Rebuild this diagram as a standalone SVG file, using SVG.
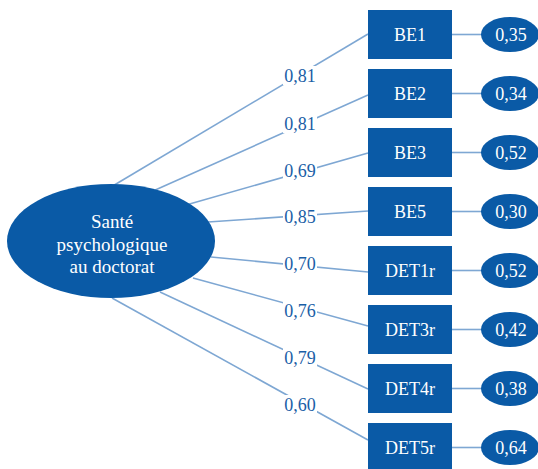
<svg xmlns="http://www.w3.org/2000/svg" width="538" height="469" viewBox="0 0 538 469">
<style>
.ln{stroke:#7ea7d3;stroke-width:1.6;fill:none}
.bx{fill:#0a5aa6}
.tw{font-family:"Liberation Serif","Times New Roman",serif;font-size:18px;fill:#ffffff;text-anchor:middle}
.lb{font-family:"Liberation Serif","Times New Roman",serif;font-size:18px;fill:#1a5ea6;text-anchor:middle}
.bg{fill:#ffffff}
</style>
<rect width="538" height="469" fill="#ffffff"/>
<g id="connectors">
<line class="ln" x1="111" y1="187" x2="368" y2="34"/>
<line class="ln" x1="153" y1="191" x2="368" y2="95"/>
<line class="ln" x1="186" y1="205" x2="368" y2="153"/>
<line class="ln" x1="208" y1="222" x2="368" y2="211"/>
<line class="ln" x1="211" y1="257" x2="368" y2="272"/>
<line class="ln" x1="193" y1="278" x2="368" y2="326"/>
<line class="ln" x1="160" y1="292" x2="368" y2="389"/>
<line class="ln" x1="112" y1="298" x2="368" y2="440"/>
<line class="ln" x1="452" y1="34.5" x2="482" y2="34.5"/>
<line class="ln" x1="452" y1="93.5" x2="482" y2="93.5"/>
<line class="ln" x1="452" y1="152.5" x2="482" y2="152.5"/>
<line class="ln" x1="452" y1="211.5" x2="482" y2="211.5"/>
<line class="ln" x1="452" y1="270.5" x2="482" y2="270.5"/>
<line class="ln" x1="452" y1="329.5" x2="482" y2="329.5"/>
<line class="ln" x1="452" y1="388.5" x2="482" y2="388.5"/>
<line class="ln" x1="452" y1="447.5" x2="482" y2="447.5"/>
<g id="labels">
<rect class="bg" x="283" y="66" width="34" height="19"/><text class="lb" x="300" y="82">0,81</text>
<rect class="bg" x="283" y="114" width="34" height="19"/><text class="lb" x="300" y="130">0,81</text>
<rect class="bg" x="283" y="161" width="34" height="19"/><text class="lb" x="300" y="177">0,69</text>
<rect class="bg" x="283" y="207" width="34" height="19"/><text class="lb" x="300" y="223">0,85</text>
<rect class="bg" x="283" y="254" width="34" height="19"/><text class="lb" x="300" y="270">0,70</text>
<rect class="bg" x="283" y="301" width="34" height="19"/><text class="lb" x="300" y="317">0,76</text>
<rect class="bg" x="283" y="348" width="34" height="19"/><text class="lb" x="300" y="364">0,79</text>
<rect class="bg" x="283" y="395" width="34" height="19"/><text class="lb" x="300" y="411">0,60</text>
</g>
</g>
<g id="latent">
<ellipse class="bx" cx="111" cy="241" rx="104" ry="57"/>
<text class="tw" style="font-size:19px" x="112" y="228">Santé</text>
<text class="tw" style="font-size:19px" x="112" y="250.5">psychologique</text>
<text class="tw" style="font-size:19px" x="112" y="273">au doctorat</text>
</g>
<g id="BE1"><rect class="bx" x="368" y="10" width="84" height="49"/><text class="tw" x="410" y="41">BE1</text></g>
<g id="BE2"><rect class="bx" x="368" y="69" width="84" height="49"/><text class="tw" x="410" y="100">BE2</text></g>
<g id="BE3"><rect class="bx" x="368" y="128" width="84" height="49"/><text class="tw" x="410" y="159">BE3</text></g>
<g id="BE5"><rect class="bx" x="368" y="187" width="84" height="49"/><text class="tw" x="410" y="218">BE5</text></g>
<g id="DET1r"><rect class="bx" x="368" y="246" width="84" height="49"/><text class="tw" x="410" y="277">DET1r</text></g>
<g id="DET3r"><rect class="bx" x="368" y="305" width="84" height="49"/><text class="tw" x="410" y="336">DET3r</text></g>
<g id="DET4r"><rect class="bx" x="368" y="364" width="84" height="49"/><text class="tw" x="410" y="395">DET4r</text></g>
<g id="DET5r"><rect class="bx" x="368" y="423" width="84" height="49"/><text class="tw" x="410" y="454">DET5r</text></g>
<g id="e1"><ellipse class="bx" cx="510" cy="34.5" rx="29" ry="17.5"/><text class="tw" x="511" y="41">0,35</text></g>
<g id="e2"><ellipse class="bx" cx="510" cy="93.5" rx="29" ry="17.5"/><text class="tw" x="511" y="100">0,34</text></g>
<g id="e3"><ellipse class="bx" cx="510" cy="152.5" rx="29" ry="17.5"/><text class="tw" x="511" y="159">0,52</text></g>
<g id="e5"><ellipse class="bx" cx="510" cy="211.5" rx="29" ry="17.5"/><text class="tw" x="511" y="218">0,30</text></g>
<g id="e6"><ellipse class="bx" cx="510" cy="270.5" rx="29" ry="17.5"/><text class="tw" x="511" y="277">0,52</text></g>
<g id="e7"><ellipse class="bx" cx="510" cy="329.5" rx="29" ry="17.5"/><text class="tw" x="511" y="336">0,42</text></g>
<g id="e8"><ellipse class="bx" cx="510" cy="388.5" rx="29" ry="17.5"/><text class="tw" x="511" y="395">0,38</text></g>
<g id="e9"><ellipse class="bx" cx="510" cy="447.5" rx="29" ry="17.5"/><text class="tw" x="511" y="454">0,64</text></g>
</svg>
